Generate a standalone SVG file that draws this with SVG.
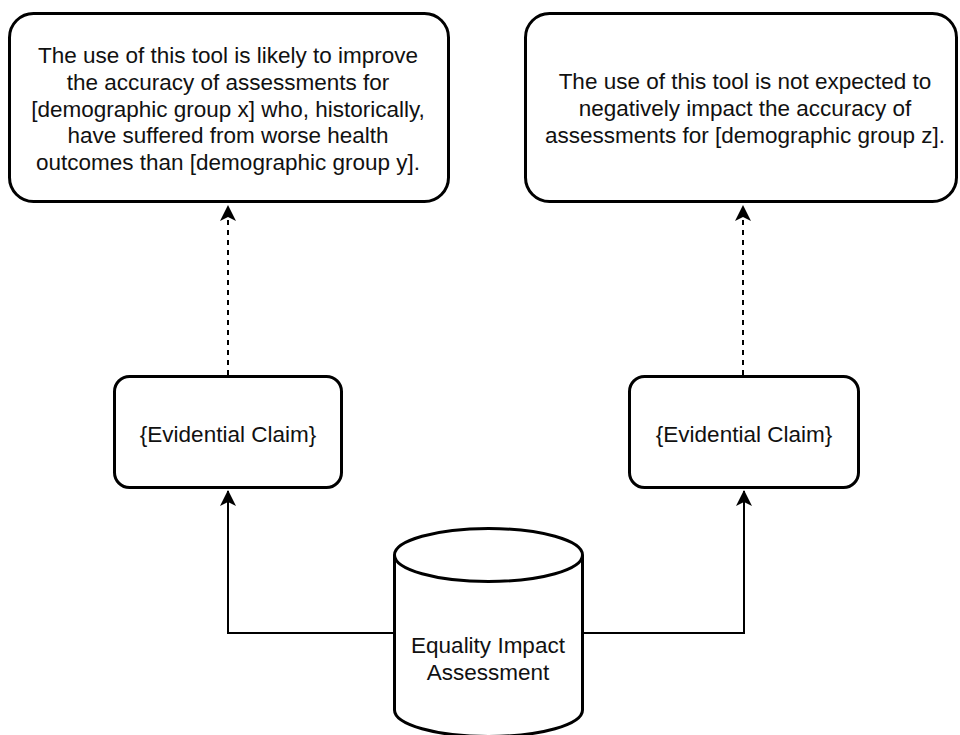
<svg xmlns="http://www.w3.org/2000/svg" width="960" height="735" viewBox="0 0 960 735">
<style>
.box{fill:#fff;stroke:#000;stroke-width:3}
.t{font-family:"Liberation Sans",Arial,sans-serif;font-size:22.5px;fill:#111;text-anchor:middle}
.c{fill:none;stroke:#000;stroke-width:2}
.d{stroke-dasharray:5 5}
</style>
<defs>
<marker id="arr" markerUnits="userSpaceOnUse" viewBox="0 0 16 16" refX="15" refY="8" markerWidth="16" markerHeight="16" orient="auto">
<path d="M0,0 L16,8 L0,16 L4,8 Z" fill="#000"/>
</marker>
</defs>
<rect width="960" height="735" fill="#fff"/>
<g id="claim-x">
<rect class="box" x="9.5" y="13.5" width="439" height="188" rx="24"/>
<text class="t" x="228" y="63">The use of this tool is likely to improve</text>
<text class="t" x="228" y="90">the accuracy of assessments for</text>
<text class="t" x="228" y="117">[demographic group x] who, historically,</text>
<text class="t" x="228" y="143">have suffered from worse health</text>
<text class="t" x="228" y="170">outcomes than [demographic group y].</text>
</g>
<g id="claim-z">
<rect class="box" x="525.5" y="13.5" width="431" height="188" rx="24"/>
<text class="t" x="745" y="89">The use of this tool is not expected to</text>
<text class="t" x="745" y="116">negatively impact the accuracy of</text>
<text class="t" x="745" y="143">assessments for [demographic group z].</text>
</g>
<g id="evidence-left">
<rect class="box" x="114.5" y="376.5" width="227" height="111" rx="15"/>
<text class="t" x="228" y="442">{Evidential Claim}</text>
</g>
<g id="evidence-right">
<rect class="box" x="629.5" y="376.5" width="229" height="111" rx="15"/>
<text class="t" x="744" y="442">{Evidential Claim}</text>
</g>
<g id="eia">
<path class="box" d="M394.5,555 A94,26.5 0 0 1 582.5,555 V710 A94,26.5 0 0 1 394.5,710 Z"/>
<path class="box" fill="none" d="M394.5,555 A94,26.5 0 0 0 582.5,555"/>
<text class="t" x="488" y="653">Equality Impact</text>
<text class="t" x="488" y="680">Assessment</text>
</g>
<g id="connectors">
<path class="c" d="M393,633 H228 V491" marker-end="url(#arr)"/>
<path class="c" d="M584,633 H744 V491" marker-end="url(#arr)"/>
<path class="c d" d="M228,375 V206" marker-end="url(#arr)"/>
<path class="c d" d="M743,375 V206" marker-end="url(#arr)"/>
</g>
</svg>
